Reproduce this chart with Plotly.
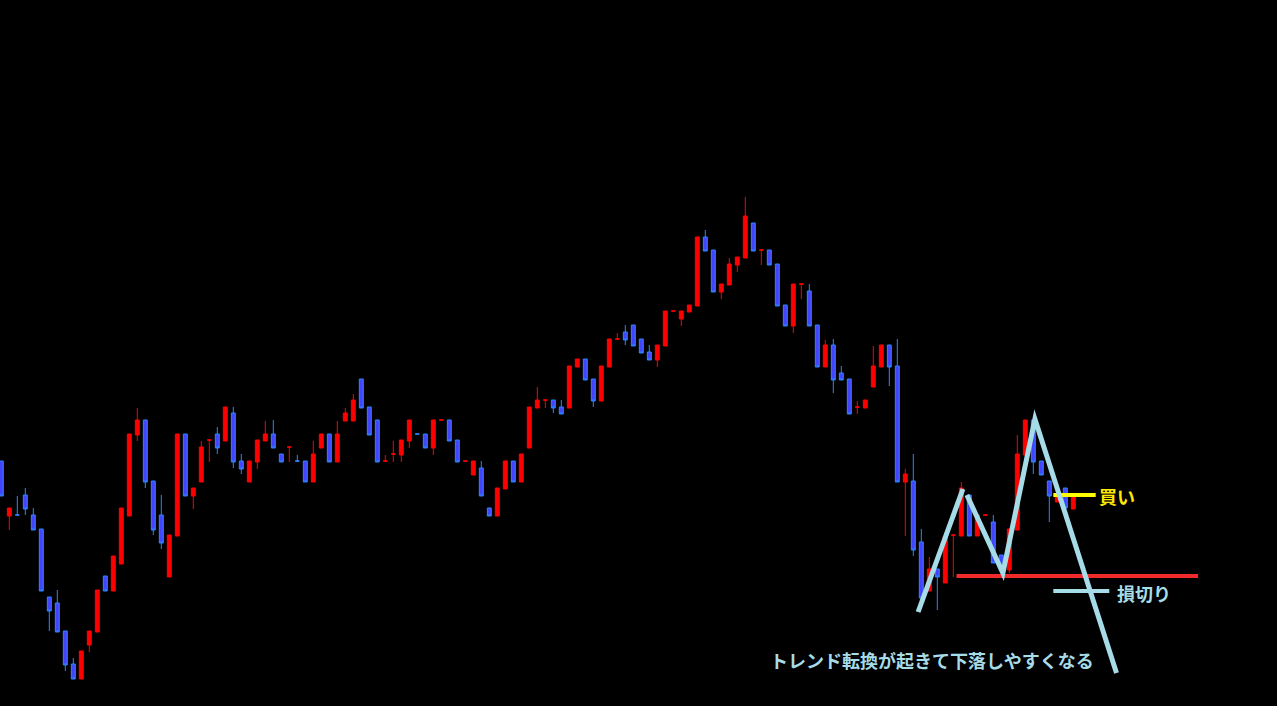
import plotly.graph_objects as go

# Candle index (one bar per period)
idx = list(range(135))

opens = [245,190,191,211,191,177,109,103,75,42,27,61,74,130,115,142,190,271,286,225,
         191,129,170,272,210,224,266,272,265,293,245,224,244,265,272,252,259,245,245,224,
         258,272,244,285,285,327,299,286,245,252,251,265,272,272,258,286,286,266,245,231,
         238,198,190,217,245,224,258,298,306,306,299,298,339,347,327,305,339,367,374,381,
         367,354,346,360,395,387,394,400,469,456,414,421,441,448,483,456,456,442,401,380,
         422,415,381,339,361,333,327,299,298,319,339,361,340,224,225,164,115,137,123,171,
         170,211,170,191,184,151,136,176,251,286,245,225,204,218,197]
highs = [245,198,210,218,198,177,109,116,75,48,55,75,116,130,150,198,272,298,286,225,
         211,171,272,272,218,265,266,279,299,299,252,245,266,285,286,252,259,251,245,265,
         272,272,285,298,312,327,299,286,251,265,266,286,272,272,286,286,286,266,245,245,
         245,198,218,245,245,252,299,319,306,306,306,340,347,347,327,340,367,373,381,381,
         367,361,361,395,395,395,401,469,476,456,422,448,449,509,483,456,456,442,401,422,
         422,422,381,366,367,340,327,305,306,360,361,361,367,237,252,177,149,137,170,171,
         224,211,191,191,191,151,177,271,286,286,245,225,211,218,211]
lows = [210,176,191,191,176,115,75,74,35,27,27,54,74,115,115,142,190,265,218,171,
        157,129,170,210,197,224,244,252,265,238,232,224,237,265,258,244,244,244,224,224,
        258,244,244,285,285,298,271,244,244,244,244,258,272,258,251,286,265,244,245,231,
        210,190,190,217,224,224,258,298,298,293,292,298,339,326,299,305,339,366,361,360,
        353,346,339,360,395,380,394,400,455,414,407,421,434,448,455,441,441,400,380,373,
        407,380,339,339,313,326,292,292,298,319,339,320,224,170,150,108,115,96,123,129,
        170,170,170,191,143,139,133,176,251,232,231,184,204,198,197]
closes = [210,198,191,197,176,115,95,74,41,27,55,75,116,115,150,198,272,286,224,176,
          163,171,272,210,218,259,266,258,299,244,237,245,266,272,258,244,259,245,224,252,
          272,244,272,293,306,298,271,244,245,252,266,286,272,258,286,286,265,244,245,245,
          210,190,218,245,224,252,299,306,306,298,292,340,347,326,305,340,367,367,366,360,
          353,346,361,395,395,395,401,469,455,414,422,442,449,490,455,456,441,400,380,422,
          422,380,339,361,326,326,292,299,306,340,361,339,224,232,156,108,137,129,170,171,
          218,170,191,191,143,139,177,252,286,244,231,210,211,198,211]

# Trade levels and pattern swing points (same price units as the candles)
pattern_a_x = [114.6, 120.2]
pattern_a_y = [94, 217]
pattern_b_x = [120.7, 125.2, 129.2, 139.4]
pattern_b_y = [211, 133, 287, 33]
stop_level = 130
stop_span = [119.4, 149.6]
buy_level = 211
buy_span = [131.5, 136.8]
stop_mark_level = 115
stop_mark_span = [131.5, 138.5]

label_buy = "買い"
label_stop = "損切り"
label_note = "トレンド転換が起きて下落しやすくなる"

LIGHT = "#a6dbe8"

fig = go.Figure()
fig.add_trace(go.Candlestick(
    x=idx, open=opens, high=highs, low=lows, close=closes,
    increasing=dict(line=dict(color="#ff0000", width=1), fillcolor="#ff0000"),
    decreasing=dict(line=dict(color="#2f86ff", width=1), fillcolor="#4444ff"),
    whiskerwidth=0, showlegend=False, hoverinfo="x+y",
))

def path(xs, ys):
    return "M " + " L ".join(f"{a},{b}" for a, b in zip(xs, ys))

shapes = [
    dict(type="line", xref="x", yref="y", x0=stop_span[0], x1=stop_span[1],
         y0=stop_level, y1=stop_level, line=dict(color="#f02a2a", width=4)),
    dict(type="line", xref="x", yref="y", x0=buy_span[0], x1=buy_span[1],
         y0=buy_level, y1=buy_level, line=dict(color="#ffff00", width=4)),
    dict(type="line", xref="x", yref="y", x0=stop_mark_span[0], x1=stop_mark_span[1],
         y0=stop_mark_level, y1=stop_mark_level, line=dict(color=LIGHT, width=4)),
    dict(type="path", xref="x", yref="y", path=path(pattern_a_x, pattern_a_y),
         line=dict(color=LIGHT, width=5)),
    dict(type="path", xref="x", yref="y", path=path(pattern_b_x, pattern_b_y),
         line=dict(color=LIGHT, width=5)),
]

FONT = "Noto Sans CJK JP"
annotations = [
    dict(x=136.9, y=210, xref="x", yref="y", text=f"<b>{label_buy}</b>", showarrow=False,
         xanchor="left", yanchor="middle", font=dict(family=FONT, size=18, color="#fde800")),
    dict(x=139.2, y=113, xref="x", yref="y", text=f"<b>{label_stop}</b>", showarrow=False,
         xanchor="left", yanchor="middle", font=dict(family=FONT, size=18, color=LIGHT)),
    dict(x=95.8, y=46, xref="x", yref="y", text=f"<b>{label_note}</b>", showarrow=False,
         xanchor="left", yanchor="middle", font=dict(family=FONT, size=18, color=LIGHT)),
]

fig.update_layout(
    width=1277, height=706,
    margin=dict(l=0, r=0, t=0, b=0),
    paper_bgcolor="#000000", plot_bgcolor="#000000",
    shapes=shapes, annotations=annotations,
    xaxis=dict(range=[-0.1625, 159.4625], visible=False, showgrid=False,
               rangeslider=dict(visible=False), fixedrange=True),
    yaxis=dict(range=[0, 706], visible=False, showgrid=False, fixedrange=True),
    showlegend=False,
)

fig.write_html(
    "out.html",
    config=dict(displayModeBar=False),
    post_script="document.body.style.margin='0';document.body.style.padding='0';"
                "document.body.style.background='#000';"
                "document.body.style.overflow='hidden';",
)
